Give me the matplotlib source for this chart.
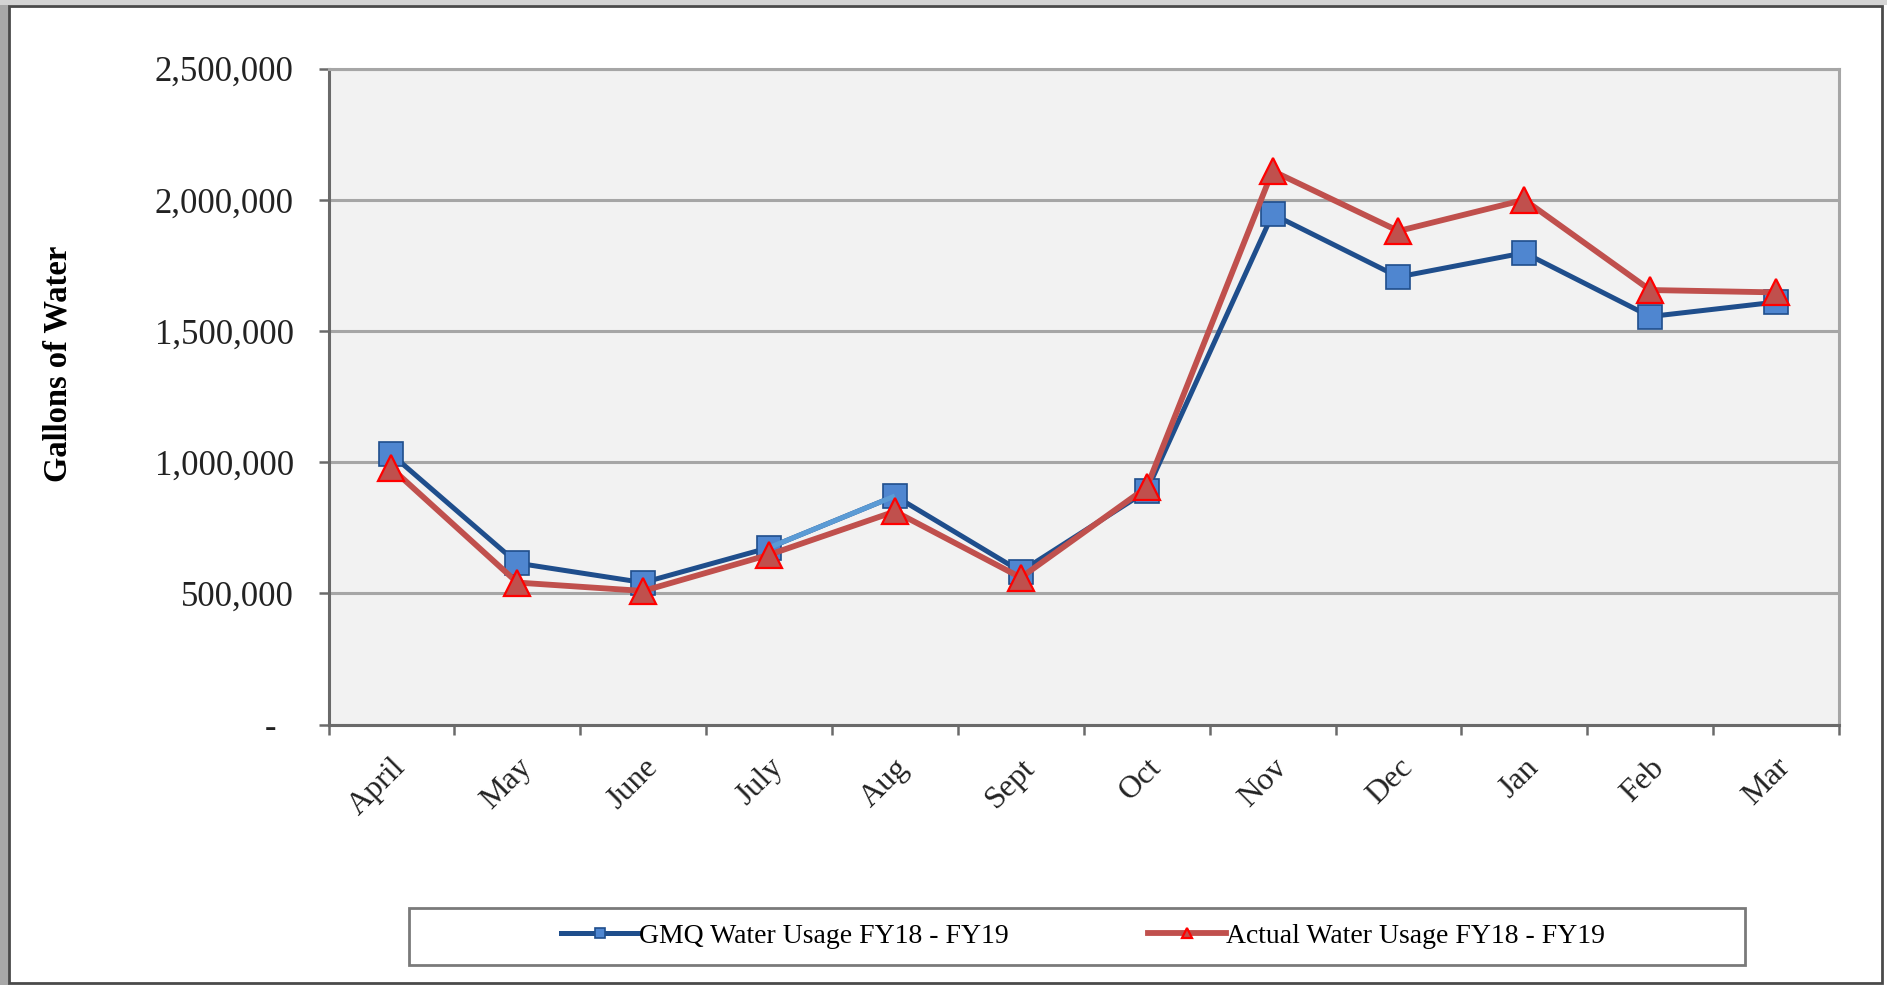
import numpy as np
import matplotlib
matplotlib.use("Agg")
import matplotlib.pyplot as plt
import matplotlib.transforms as mtransforms
from matplotlib.patches import Rectangle
from matplotlib.ticker import FuncFormatter, FixedLocator

months = ["April", "May", "June", "July", "Aug", "Sept", "Oct", "Nov", "Dec", "Jan", "Feb", "Mar"]
gmq = [1030000, 615000, 541000, 674000, 871000, 583000, 890000, 1945000, 1706000, 1798000, 1555000, 1610000]
actual = [977000, 541000, 509000, 647000, 812000, 560000, 904000, 2110000, 1881000, 2000000, 1656000, 1647000]
y_ticks = [0, 500000, 1000000, 1500000, 2000000, 2500000]

plt.rcParams['font.family'] = ['Liberation Serif', 'DejaVu Serif']

W, H = 1887, 985
fig = plt.figure(figsize=(W / 100, H / 100), dpi=100)
fig.patch.set_facecolor("white")

# outer frame of the screenshot
fig.patches.append(Rectangle((0, 0), 9 / W, 1, transform=fig.transFigure,
                             facecolor="#a8a8a8", edgecolor="none"))
fig.patches.append(Rectangle((0, 1 - 5 / H), 1, 5 / H, transform=fig.transFigure,
                             facecolor="#d4d4d4", edgecolor="none"))
fig.patches.append(Rectangle((9 / W, 2 / H), (1882 - 9) / W, (979 - 2) / H,
                             transform=fig.transFigure, facecolor="none",
                             edgecolor="#4a4a4a", lw=2.0))

ax = fig.add_axes([328.5 / W, 1 - 724.5 / H, (1839 - 328.5) / W, (724.5 - 68.6) / H])
ax.set_facecolor("#f2f2f2")

x = np.arange(len(months))
ax.plot(x, gmq, color="#1f4e8c", lw=3.6, marker="s", markersize=17,
        markerfacecolor="#4f86d0", markeredgecolor="#1f4e8c", markeredgewidth=1.2,
        label="GMQ Water Usage FY18 - FY19", zorder=3)
# lighter segment July -> Aug as in the original
ax.plot(x[3:5], gmq[3:5], color="#5b9bd5", lw=3.6, zorder=3.1, solid_capstyle="butt")
ax.plot(x, actual, color="#c0504d", lw=4.2, marker="^", markersize=19,
        markerfacecolor="#c0504d", markeredgecolor="#ff0000", markeredgewidth=1.6,
        label="Actual Water Usage FY18 - FY19", zorder=4)

ax.set_xlim(-0.5, len(months) - 0.5)
ax.set_ylim(0, 2500000)

ax.yaxis.set_major_locator(FixedLocator(y_ticks))
ax.yaxis.set_major_formatter(FuncFormatter(lambda v, p: "-  " if v == 0 else f"{int(v):,}"))
ax.grid(axis="y", color="#a6a6a6", lw=2.2)
ax.set_axisbelow(True)

ax.set_xticks(x)
ax.set_xticklabels(months)
ax.set_xticks(np.arange(len(months) + 1) - 0.5, minor=True)
ax.tick_params(axis="x", which="major", length=0, pad=28, labelsize=23)
ax.tick_params(axis="x", which="minor", length=7, width=1.8, color="#6a6a6a", direction="out")
ax.tick_params(axis="y", length=7, width=1.8, color="#6a6a6a", pad=18, labelsize=25, labelcolor="#222222")

offset = mtransforms.ScaledTranslation(10 / 100, 0, fig.dpi_scale_trans)
for lab in ax.get_xticklabels():
    lab.set_rotation(45)
    lab.set_ha("right")
    lab.set_va("center")
    lab.set_rotation_mode("anchor")
    lab.set_color("#222222")
    lab.set_transform(lab.get_transform() + offset)

for side in ["left", "bottom"]:
    ax.spines[side].set_color("#6a6a6a")
    ax.spines[side].set_linewidth(2.2)
for side in ["top", "right"]:
    ax.spines[side].set_color("#a6a6a6")
    ax.spines[side].set_linewidth(2.2)

ax.set_ylabel("Gallons of Water", fontsize=23.5, fontweight="bold")
ax.yaxis.set_label_coords(-0.169, 0.55)

# legend box
fig.patches.append(Rectangle((409 / W, 1 - 965 / H), (1745 - 409) / W, (965 - 908) / H,
                             transform=fig.transFigure, facecolor="white",
                             edgecolor="#7a7a7a", lw=2.0))
fig.legend(loc="center", bbox_to_anchor=(1083 / W, 1 - 936 / H), ncol=2, frameon=False,
           fontsize=20, markerscale=0.4, handlelength=2.8, columnspacing=5.0,
           handletextpad=0.0)

fig.savefig("out.png", dpi=100, facecolor=fig.get_facecolor())
